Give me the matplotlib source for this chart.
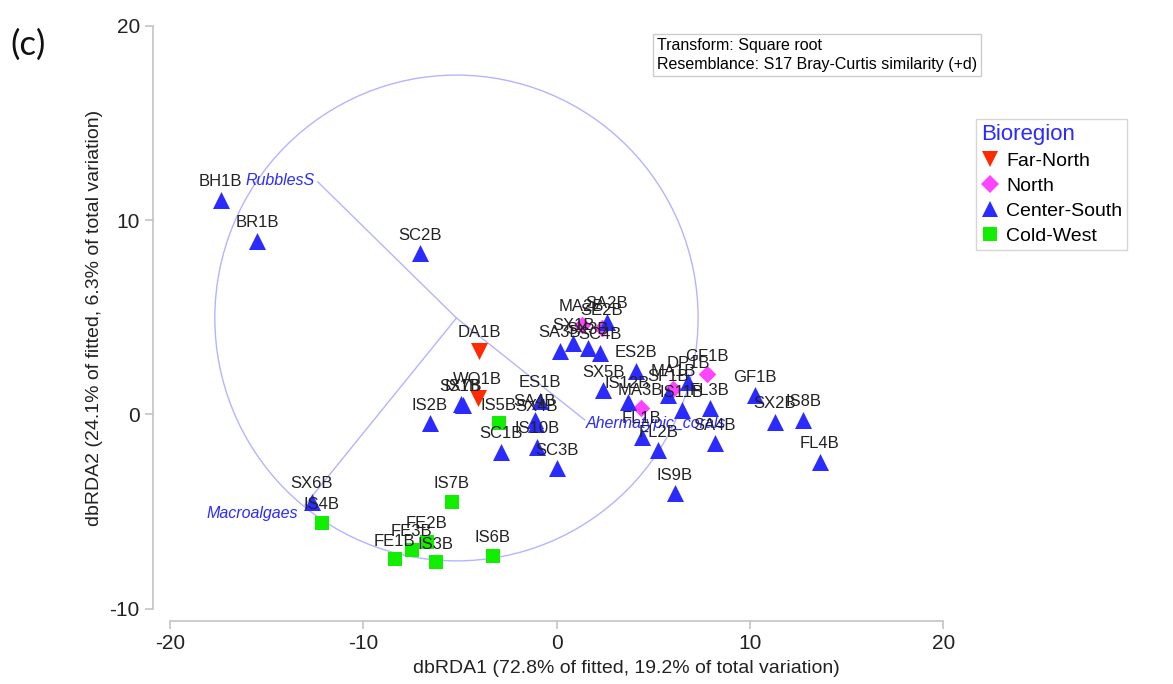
import matplotlib
matplotlib.use("Agg")
import matplotlib.pyplot as plt
from matplotlib.patches import Circle
from matplotlib.lines import Line2D

plt.rcParams['font.family'] = ['Liberation Sans', 'DejaVu Sans']
plt.rcParams['axes.unicode_minus'] = False

# sample scores on dbRDA1 / dbRDA2, grouped by bioregion
far_north_names = ["DA1B", "WO1B"]
far_north_x = [-4.02, -4.08]
far_north_y = [3.26, 0.85]

north_names = ["MA2B", "SE2B", "MA3B", "MA1B", "GF1B"]
north_x = [1.29, 2.33, 4.35, 6.03, 7.76]
north_y = [4.60, 4.43, 0.31, 1.30, 2.06]

center_names = ["BH1B", "BR1B", "SC2B", "SX7B", "IS1B", "IS2B", "SC1B", "ES1B",
                "SA4B", "SX4B", "IS10B", "SC3B", "SA3B", "SX1B", "SX3B", "SC4B",
                "SA2B", "SX5B", "IS12B", "ES2B", "FL1B", "FL2B", "SF1B", "DP1B",
                "IS11B", "FL3B", "SA4B", "GF1B", "SX2B", "IS8B", "FL4B", "IS9B",
                "SX6B"]
center_x = [-17.37, -15.49, -7.07, -4.95, -4.85, -6.55, -2.90, -0.86,
            -1.12, -1.05, -1.03, 0.00, 0.17, 0.86, 1.62, 2.24,
            2.59, 2.41, 3.67, 4.10, 4.40, 5.26, 5.76, 6.80,
            6.47, 7.93, 8.19, 10.26, 11.29, 12.76, 13.62, 6.12,
            -12.67]
center_y = [11.03, 8.93, 8.29, 0.52, 0.48, -0.46, -1.92, 0.70,
            -0.29, -0.50, -1.67, -2.78, 3.28, 3.65, 3.42, 3.16,
            4.77, 1.25, 0.65, 2.24, -1.15, -1.84, 1.00, 1.68,
            0.22, 0.31, -1.49, 0.99, -0.38, -0.29, -2.44, -4.07,
            -4.50]

cold_names = ["IS5B", "IS4B", "IS7B", "FE2B", "FE3B", "FE1B", "IS3B", "IS6B"]
cold_x = [-2.98, -12.16, -5.43, -6.73, -7.50, -8.37, -6.26, -3.31]
cold_y = [-0.45, -5.58, -4.50, -6.56, -6.98, -7.46, -7.62, -7.29]

# predictor vectors (start at circle centre)
circle_center = (-5.18, 4.96)
circle_radius = 12.5
vec_names = ["RubblesS", "Macroalgaes", "Ahermatypic_corals"]
vec_end_x = [-12.35, -13.02, 1.46]
vec_end_y = [11.96, -4.67, -0.29]

RED = "#ff2a00"
PINK = "#ff44ff"
BLUE = "#2b2bff"
GREEN = "#11ee00"
VEC = "#b4b4ff"
GRAY = "#c4c4c4"

fig = plt.figure(figsize=(11.73, 6.84), dpi=100)
ax = fig.add_axes([0.1304, 0.0925, 0.6902, 0.8841])
ax.set_xlim(-20.88, 21)
ax.set_ylim(-10.62, 20.5)

ax.add_patch(Circle(circle_center, circle_radius, fill=False, ec=VEC, lw=1.0, zorder=1))
for ex, ey in zip(vec_end_x, vec_end_y):
    ax.plot([circle_center[0], ex], [circle_center[1], ey], color=VEC, lw=1.0, zorder=1)

ax.text(vec_end_x[0] - 0.15, vec_end_y[0] + 0.05, vec_names[0], color=BLUE, style="italic",
        fontsize=11.5, ha="right", va="center", zorder=4)
ax.text(vec_end_x[1] - 0.35, vec_end_y[1] - 0.45, vec_names[1], color=BLUE, style="italic",
        fontsize=11.5, ha="right", va="center", zorder=4)
ax.text(vec_end_x[2] + 0.05, vec_end_y[2] - 0.2, vec_names[2], color=BLUE, style="italic",
        fontsize=11.5, ha="left", va="center", zorder=4)

ax.scatter(cold_x, cold_y, marker="s", s=112, color=GREEN, lw=0, zorder=2)
ax.scatter(far_north_x, far_north_y, marker="v", s=150, color=RED, lw=0, zorder=2)
ax.scatter(north_x, north_y, marker="D", s=80, color=PINK, lw=0, zorder=2)
ax.scatter(center_x, center_y, marker="^", s=150, color=BLUE, lw=0, zorder=3)

for names, xs, ys in [(far_north_names, far_north_x, far_north_y),
                      (north_names, north_x, north_y),
                      (center_names, center_x, center_y),
                      (cold_names, cold_x, cold_y)]:
    for n, x, y in zip(names, xs, ys):
        ax.annotate(n, (x, y), xytext=(0, 13), textcoords="offset points",
                    ha="center", va="center", fontsize=12, color="#222222", zorder=5)

for side in ["top", "right"]:
    ax.spines[side].set_visible(False)
ax.spines["left"].set_bounds(-10, 20)
ax.spines["bottom"].set_bounds(-20, 20)
for side in ["left", "bottom"]:
    ax.spines[side].set_color(GRAY)
    ax.spines[side].set_linewidth(1.2)
ax.set_xticks([-20, -10, 0, 10, 20])
ax.set_yticks([-10, 0, 10, 20])
ax.tick_params(colors=GRAY, labelcolor="#222222", labelsize=15, length=6, width=1.2)

ax.set_xlabel("dbRDA1 (72.8% of fitted, 19.2% of total variation)", fontsize=14, color="#222222")
ax.set_ylabel("dbRDA2 (24.1% of fitted, 6.3% of total variation)", fontsize=14, color="#222222")
ax.xaxis.set_label_coords(0.585, -0.065)
ax.yaxis.set_label_coords(-0.062, 0.5)

fig.text(0.009, 0.92, "(c)", fontsize=25, family="Lato", color="#111111")

ax.text(0.623, 0.963, "Transform: Square root\nResemblance: S17 Bray-Curtis similarity (+d)",
        transform=ax.transAxes, fontsize=11.5, va="top", ha="left", linespacing=1.3,
        bbox=dict(boxstyle="square,pad=0.25", fc="white", ec="#cccccc", lw=1.0), zorder=6)

handles = [
    Line2D([], [], marker="v", ls="", color=RED, ms=12, mew=0),
    Line2D([], [], marker="D", ls="", color=PINK, ms=9, mew=0),
    Line2D([], [], marker="^", ls="", color=BLUE, ms=12, mew=0),
    Line2D([], [], marker="s", ls="", color=GREEN, ms=10, mew=0),
]
leg = fig.legend(handles, ["Far-North", "North", "Center-South", "Cold-West"],
                 title="Bioregion", loc="upper left", bbox_to_anchor=(0.824, 0.84),
                 fontsize=14, title_fontsize=16, frameon=True, fancybox=False,
                 edgecolor="#cccccc", handlelength=0.9, handletextpad=0.4,
                 labelspacing=0.38, borderpad=0.25, alignment="left")
leg.get_title().set_color(BLUE)
leg.get_frame().set_linewidth(1.0)

fig.savefig("out.png", dpi=100)
